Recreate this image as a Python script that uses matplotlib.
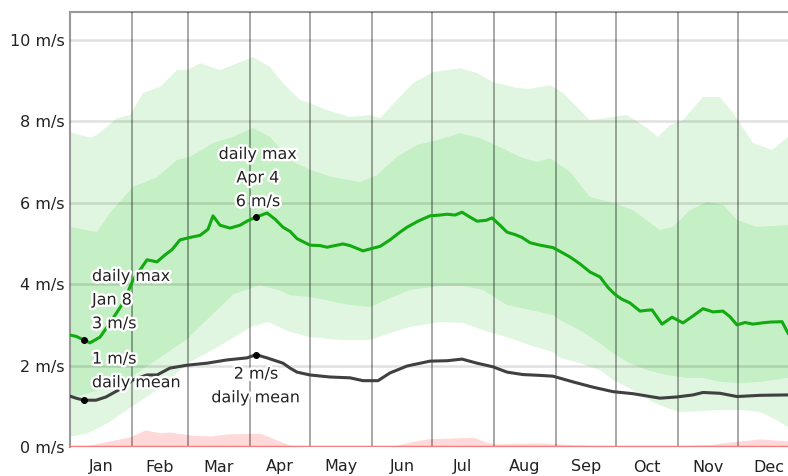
import datetime
import matplotlib
matplotlib.use("Agg")
import matplotlib.pyplot as plt
import matplotlib.patheffects as pe
import numpy as np

# day-of-year (0 = Jan 1) and average daily max wind speed (m/s)
max_days = [0, 3, 7, 10, 15, 20, 24, 26.5, 31.5, 35, 38.5, 43.5, 47.5, 51, 55, 60, 65, 69,
            71.5, 75, 80, 85, 88.5, 93, 98.5, 102.5, 106.5, 110, 113.5, 120, 125, 128.5,
            136.5, 140, 146.5, 151, 155, 160, 165, 168.5, 174, 180, 185, 188.5, 192.5, 196,
            200, 203.5, 208, 211, 215, 218.5, 222.5, 226, 230, 235, 241.5, 246, 250, 255,
            260, 265, 269, 272.5, 276, 280, 285, 288.5, 291, 296, 301, 306.5, 311.5, 316.5,
            321.5, 326.5, 330, 333.5, 337.5, 341.5, 346, 350, 356, 359]
max_speed = [2.75, 2.72, 2.63, 2.56, 2.70, 3.05, 3.35, 3.54, 4.10, 4.35, 4.60, 4.55, 4.72,
             4.85, 5.09, 5.15, 5.20, 5.35, 5.68, 5.45, 5.38, 5.45, 5.55, 5.65, 5.75, 5.60,
             5.40, 5.30, 5.12, 4.96, 4.95, 4.91, 4.99, 4.95, 4.82, 4.88, 4.93, 5.09, 5.28,
             5.40, 5.55, 5.68, 5.70, 5.72, 5.70, 5.77, 5.65, 5.55, 5.57, 5.63, 5.45, 5.28,
             5.22, 5.15, 5.02, 4.96, 4.90, 4.78, 4.67, 4.50, 4.30, 4.18, 3.92, 3.75, 3.63,
             3.54, 3.34, 3.36, 3.37, 3.02, 3.19, 3.05, 3.22, 3.40, 3.32, 3.34, 3.20, 3.00,
             3.06, 3.02, 3.05, 3.07, 3.08, 2.80]

# average daily mean wind speed (m/s)
mean_days = [0, 3, 7, 13, 18, 25, 31.5, 38.5, 43.5, 50, 58.5, 68.5, 78.5, 88.5, 93, 98.5,
             106.5, 110, 113.5, 120, 130, 140, 146.5, 154, 160, 168.5, 180, 188.5, 196,
             203.5, 211.5, 218.5, 226.5, 235, 241.5, 251.5, 261.5, 271.5, 281.5, 295,
             303.5, 311.5, 316.5, 325, 333.5, 345, 359]
mean_speed = [1.25, 1.20, 1.15, 1.15, 1.23, 1.42, 1.65, 1.77, 1.77, 1.94, 2.01, 2.06, 2.14,
              2.19, 2.27, 2.19, 2.06, 1.94, 1.84, 1.77, 1.72, 1.70, 1.63, 1.63, 1.82, 1.99,
              2.11, 2.12, 2.16, 2.06, 1.97, 1.84, 1.78, 1.76, 1.74, 1.60, 1.47, 1.36, 1.31,
              1.20, 1.23, 1.28, 1.34, 1.32, 1.24, 1.27, 1.28]

# percentile bands of the daily max
p90_days = [0, 10, 13.5, 23.5, 30, 36.5, 45, 53.5, 58.5, 65, 75, 81.5, 91.5, 100, 106.5,
            115, 120, 128.5, 140, 150, 155, 163.5, 171.5, 181.5, 195, 203.5, 211.5, 223.5,
            230, 240, 246.5, 260, 271.5, 278.5, 288.5, 294, 300, 306.5, 316.5, 325, 331.5,
            341.5, 351, 359]
p90 = [7.74, 7.60, 7.67, 8.08, 8.16, 8.70, 8.85, 9.26, 9.26, 9.43, 9.26, 9.39, 9.58, 9.34,
       8.94, 8.53, 8.45, 8.28, 8.11, 8.16, 8.08, 8.53, 8.94, 9.21, 9.31, 9.19, 8.97, 8.82,
       8.80, 8.89, 8.70, 8.03, 8.11, 8.16, 7.84, 7.62, 7.91, 8.03, 8.60, 8.60, 8.21, 7.47,
       7.30, 7.62]

p75_days = [0, 13.5, 20, 31.5, 43.5, 53.5, 60, 71.5, 81.5, 91.5, 100, 110, 120, 131.5, 145,
            153.5, 163.5, 173.5, 183.5, 195, 205, 215, 225, 233.5, 240, 250, 260, 271.5,
            281.5, 295, 301.5, 310, 318.5, 326.5, 333.5, 343.5, 359]
p75 = [5.41, 5.28, 5.75, 6.39, 6.63, 7.05, 7.13, 7.47, 7.62, 7.84, 7.62, 7.05, 6.81, 6.63,
       6.51, 6.68, 7.13, 7.42, 7.54, 7.71, 7.59, 7.37, 7.13, 7.00, 7.10, 6.76, 6.14, 6.00,
       5.82, 5.33, 5.41, 5.82, 6.02, 5.95, 5.58, 5.41, 5.45]

p25_days = [0, 15, 30, 45, 58.5, 70, 81.5, 95, 105, 110, 120, 140, 150, 160, 170, 185, 196.5,
            206.5, 218.5, 230, 241.5, 245, 255, 265, 271.5, 278.5, 288.5, 298.5, 308.5,
            316.5, 325, 335, 345, 359]
p25 = [1.20, 1.40, 1.70, 2.20, 2.65, 3.20, 3.75, 3.98, 3.85, 3.73, 3.69, 3.49, 3.44, 3.66,
       3.86, 3.96, 3.96, 3.86, 3.49, 3.37, 3.24, 3.12, 2.87, 2.55, 2.31, 2.09, 1.89, 1.77,
       1.70, 1.70, 1.60, 1.57, 1.60, 1.70]

p10_days = [0, 9, 19, 30.5, 45.5, 59, 74, 90.5, 99, 110, 120, 135, 150, 160, 170, 185, 196.5,
            206.5, 218.5, 230, 241.5, 245, 255, 265, 271.5, 281.5, 291.5, 298.5, 305, 315,
            325, 335, 345, 351.5, 359]
p10 = [0.25, 0.34, 0.59, 0.98, 1.47, 2.06, 2.46, 2.95, 3.07, 2.83, 2.70, 2.63, 2.63, 2.80,
       2.95, 3.07, 3.05, 2.87, 2.70, 2.50, 2.33, 2.19, 2.06, 1.89, 1.65, 1.40, 1.10, 0.96,
       0.86, 0.88, 0.91, 0.91, 0.86, 0.71, 0.49]

# calm band along the bottom
calm_days = [0, 10, 20, 30, 37.5, 45, 50, 55, 61.5, 70, 78.5, 87, 95, 102, 110, 118, 160,
             170, 178.5, 190, 201.5, 208, 212, 235, 255, 270, 300, 320, 330, 345, 359]
calm = [0.0, 0.05, 0.15, 0.25, 0.42, 0.35, 0.37, 0.33, 0.29, 0.27, 0.32, 0.33, 0.34, 0.20,
        0.05, 0.0, 0.0, 0.12, 0.20, 0.22, 0.24, 0.12, 0.08, 0.10, 0.05, 0.02, 0.02, 0.06,
        0.12, 0.20, 0.15]

months = ["Jan", "Feb", "Mar", "Apr", "May", "Jun", "Jul", "Aug", "Sep", "Oct", "Nov", "Dec"]
month_len = [31, 28, 31, 30, 31, 30, 31, 31, 30, 31, 30, 31]

# annotated days: Jan 8 and Apr 4
low_day, high_day = 7, 93

fig = plt.figure(figsize=(7.88, 4.76), dpi=100)
ax = fig.add_axes([70 / 788, 29 / 476, 718 / 788, 435 / 476])

ax.fill(np.r_[p10_days, p90_days[::-1]], np.r_[p10, p90[::-1]],
        color="#e0f6e0", lw=0, zorder=1)
ax.fill(np.r_[p25_days, p75_days[::-1]], np.r_[p25, p75[::-1]],
        color="#c5efc5", lw=0, zorder=2)
ax.fill_between(calm_days, 0, calm, color="#ffd9d9", lw=0, zorder=2)

month_start = np.cumsum([0] + month_len[:-1])
month_mid = month_start + np.array(month_len) / 2
for m in month_start[1:]:
    ax.axvline(m, color="black", alpha=0.4, lw=1.2, zorder=3)
for v in range(2, 11, 2):
    ax.axhline(v, color="black", alpha=0.12, lw=1.8, zorder=3)
ax.axhline(0, color="#f07f7f", lw=2.5, zorder=4)

ax.plot(max_days, max_speed, color="#11aa11", lw=2.2, zorder=5)
ax.plot(mean_days, mean_speed, color="#404040", lw=2.2, zorder=5)

halo = [pe.withStroke(linewidth=3.5, foreground="white")]
txt = dict(fontsize=11.5, color="#222222", linespacing=1.72, zorder=7, path_effects=halo)


def day_label(d):
    dt = datetime.date(2001, 1, 1) + datetime.timedelta(days=d)
    return f"{dt:%b} {dt.day}"


for d, va in [(low_day, 0), (high_day, 1)]:
    mx = max_speed[max_days.index(d)]
    mn = mean_speed[mean_days.index(d)]
    ax.plot([d, d], [mx, mn], "o", color="black", ms=4, zorder=6, ls="none")
    if va == 0:
        ax.text(d + 4, 3.61, f"daily max\n{day_label(d)}\n{mx:.0f} m/s", ha="left", va="center", **txt)
        ax.text(d + 4, 1.87, f"{mn:.0f} m/s\ndaily mean", ha="left", va="center", **txt)
    else:
        ax.text(d + 1, 6.61, f"daily max\n{day_label(d)}\n{mx:.0f} m/s", ha="center", va="center", **txt)
        ax.text(d, 1.5, f"{mn:.0f} m/s\ndaily mean", ha="center", va="center", **txt)

ax.set_xlim(0, 359)
ax.set_ylim(0, 10.69)
ax.set_yticks(range(0, 11, 2))
ax.set_yticklabels([f"{v} m/s" for v in range(0, 11, 2)])
ax.set_xticks(month_mid)
ax.set_xticklabels(months)
ax.tick_params(length=0, labelsize=11.5, labelcolor="#222222")
ax.tick_params(axis="y", pad=4)
ax.tick_params(axis="x", pad=9)
for side in ["right", "bottom"]:
    ax.spines[side].set_visible(False)
for side in ["left", "top"]:
    ax.spines[side].set_color("#999999")
    ax.spines[side].set_linewidth(1.5)

fig.savefig("out.png", dpi=100)
